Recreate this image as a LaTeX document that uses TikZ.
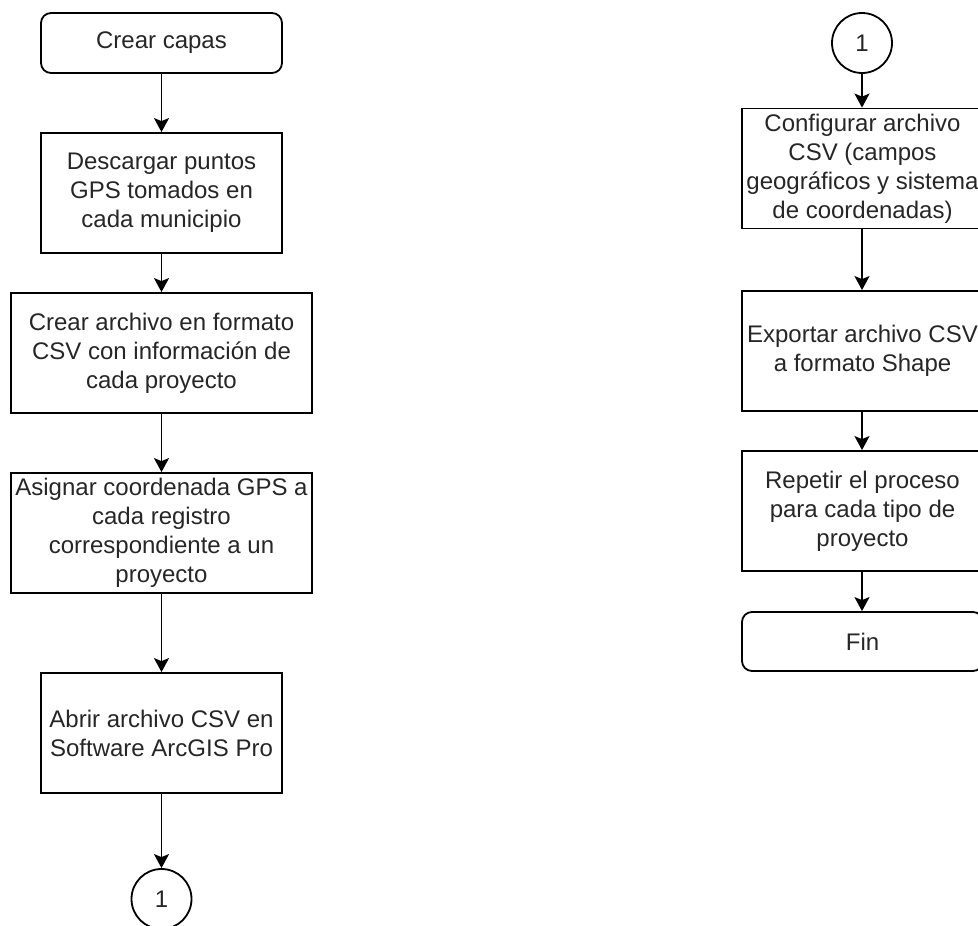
\documentclass[tikz,border=0pt]{standalone}
\usepackage{fontspec}
\setmainfont{Liberation Sans}
\usetikzlibrary{arrows.meta}

\begin{document}
\begin{tikzpicture}[x=1pt, y=-1pt,
  box/.style={draw, line width=1.8pt, rectangle, align=center, inner sep=0pt,
    minimum width=241pt, minimum height=120pt, text=black!85,
    font=\fontsize{24}{29}\selectfont},
  wide/.style={box, minimum width=301pt},
  term/.style={box, rounded corners=10pt, minimum height=60pt},
  conn/.style={draw, line width=1.8pt, circle, minimum size=60pt, inner sep=0pt,
    text=black!85, font=\fontsize{24}{29}\selectfont},
  arr/.style={line width=1.8pt, -{Stealth[length=14pt, width=15pt, inset=3pt]}}]

\useasboundingbox (0,0) rectangle (978,926);

% left column
\node[term] (capas) at (161.5, 43) {Crear capas};
\node[box] (descargar) at (161.5, 193) {Descargar puntos\\GPS tomados en\\cada municipio};
\node[wide] (crear) at (161.5, 353) {Crear archivo en formato\\CSV con informaci\'on de\\cada proyecto};
\node[wide] (asignar) at (161.5, 533) {Asignar coordenada GPS a\\cada registro\\correspondiente a un\\proyecto};
\node[box] (abrir) at (161.5, 733) {Abrir archivo CSV en\\Software ArcGIS Pro};
\node[conn] (uno) at (161.5, 899) {1};

% right column
\node[conn] (dos) at (862, 43) {1};
\node[box] (configurar) at (862.5, 168.5) {Configurar archivo\\CSV (campos\\geogr\'aficos y sistema\\de coordenadas)};
\node[box] (exportar) at (862.5, 351) {Exportar archivo CSV\\a formato Shape};
\node[box] (repetir) at (862.5, 511) {Repetir el proceso\\para cada tipo de\\proyecto};
\node[term, minimum height=59pt] (fin) at (862.5, 641.5) {Fin};

\draw[arr] (capas) -- (descargar);
\draw[arr] (descargar) -- (crear);
\draw[arr] (crear) -- (asignar);
\draw[arr] (asignar) -- (abrir);
\draw[arr] (abrir) -- (uno);

\draw[arr] (dos) -- (dos |- configurar.north);
\draw[arr] (configurar.south -| dos) -- (dos |- exportar.north);
\draw[arr] (exportar.south -| dos) -- (dos |- repetir.north);
\draw[arr] (repetir.south -| dos) -- (dos |- fin.north);

\end{tikzpicture}
\end{document}
